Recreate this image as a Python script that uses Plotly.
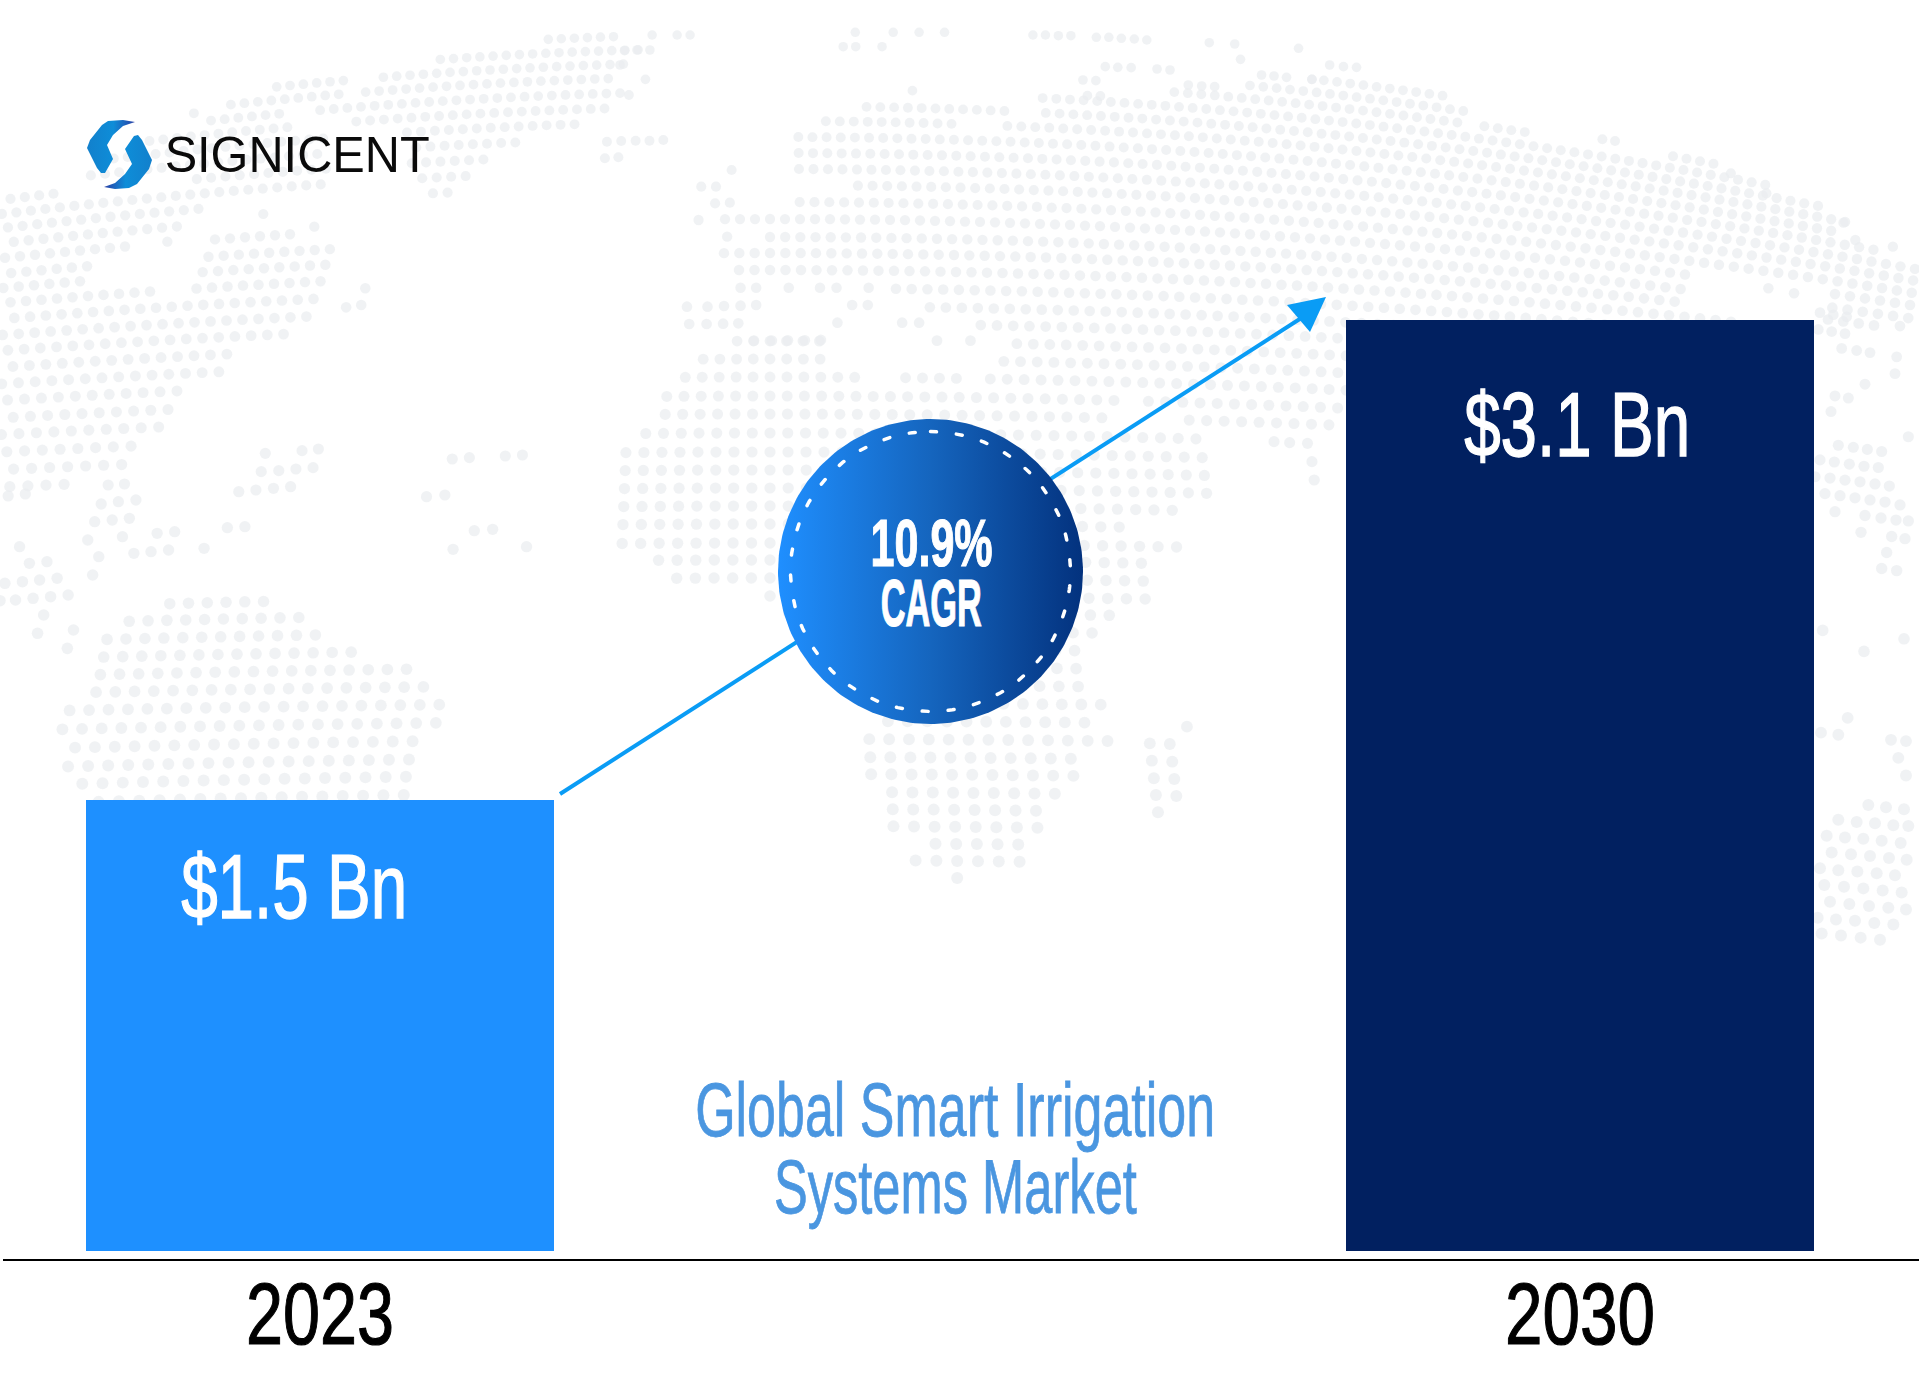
import numpy as np
import plotly.graph_objects as go

# ============ Chart data ============
YEARS = [2023, 2030]
MARKET_SIZE = [1.5, 3.1]        # USD Bn
BAR_COLORS = ["#1E90FF", "#012060"]
BAR_LABELS = ["$1.5 Bn", "$3.1 Bn"]
CAGR_LINES = ["10.9%", "CAGR"]
TITLE_LINES = ["Global Smart Irrigation", "Systems Market"]
BRAND = "SIGNICENT"

NARROW = "Liberation Sans Narrow, Liberation Sans, sans-serif"
DOT_COLOR = "#E9ECF0"
ARROW_COLOR = "#0A9CF5"

# the fonts here are wider than the original, so each string gets a fixed width
TEXT_WIDTHS = {
    "2023": 148, "2030": 150,
    "$1.5 Bn": 226, "$3.1 Bn": 226,
    "10.9%": 122, "CAGR": 101,
    "Global Smart Irrigation": 520, "Systems Market": 363,
    "SIGNICENT": 265,
}
# the original lettering is heavier than the narrow font: extra outline per string
TEXT_WEIGHT = {
    "2023": 1.2, "2030": 1.2,
    "$1.5 Bn": 1.4, "$3.1 Bn": 1.4,
    "10.9%": 1.2, "CAGR": 1.2,
    "Global Smart Irrigation": 0.8, "Systems Market": 0.8,
}

# ============ Dotted world map behind the chart (page pixels) ============
MAP_ROWS = [20, 34, 48, 62, 76, 91, 106, 121, 137, 153, 169, 185, 202, 219, 237, 253, 270,
            288, 306, 323, 341, 359, 377, 396, 414, 433, 452, 470, 488, 506, 524, 543, 560,
            578, 596, 613, 631, 649, 667, 685, 703, 721, 739, 757, 774, 792, 809, 826, 843,
            860, 877]

ROW_Y = [30, 107, 150, 219, 270, 396, 450, 490, 680, 770, 860]
ROW_PITCH = [13.0, 13.8, 14.3, 15.0, 15.5, 17.2, 18.0, 18.2, 19.2, 20.2, 20.8]
CURVE_Y = [30, 150, 300, 450, 700, 900]
CURVE = [1.1e-4, 8e-5, 5e-5, 3e-5, 1.5e-5, 3e-5]
MAP_APEX = 770
DOT_SIZE_Y = [30, 400, 800]
DOT_SIZE = [9.5, 11, 12]

EURASIA_AFRICA = [(868, 98), (1013, 98), (1013, 113), (962, 113), (962, 128), (995, 128), (995, 113),
                  (1035, 113), (1035, 98), (1176, 92), (1262, 82), (1300, 85), (1330, 74), (1408, 80),
                  (1468, 103), (1468, 128), (1478, 118), (1530, 125), (1535, 140), (1710, 160),
                  (1775, 188), (1850, 218), (1838, 240), (1919, 262), (1919, 326), (1828, 326),
                  (1828, 290), (1690, 268), (1690, 305), (1745, 310), (1745, 345), (1400, 345),
                  (1400, 408), (1310, 430), (1180, 425), (1180, 408), (1146, 408), (1142, 390),
                  (1115, 390), (1120, 425), (1188, 430), (1215, 450), (1218, 480), (1206, 497),
                  (1173, 512), (1122, 530), (1180, 548), (1148, 568), (1152, 582), (1154, 602),
                  (1116, 620), (1100, 638), (1084, 656), (1086, 690), (1110, 708), (1092, 726),
                  (1114, 745), (1075, 762), (1077, 778), (1057, 796), (1039, 812), (1040, 830),
                  (1020, 848), (1020, 865), (960, 882), (950, 870), (908, 865), (930, 848),
                  (886, 830), (885, 796), (863, 778), (863, 735), (880, 718), (760, 585), (690, 585),
                  (650, 565), (616, 548), (612, 525), (618, 505), (620, 488), (620, 470), (623, 450),
                  (643, 430), (660, 410), (662, 392), (682, 372), (700, 354), (750, 334), (825, 334),
                  (825, 368), (862, 368), (862, 388), (903, 388), (903, 368), (960, 368), (960, 388),
                  (985, 388), (985, 368), (1016, 350), (995, 333), (962, 316), (893, 298), (893, 280),
                  (730, 280), (730, 262), (718, 245), (768, 245), (768, 229), (720, 229), (720, 212),
                  (796, 212), (796, 195), (844, 195), (844, 177), (796, 177), (784, 145), (812, 128),
                  (842, 113)]
GREENLAND = [(494, 46), (607, 32), (640, 48), (640, 60), (624, 65), (620, 80), (630, 95), (600, 112),
             (569, 128), (510, 147), (478, 165), (459, 183), (439, 200), (420, 202), (427, 183),
             (402, 172), (408, 153), (390, 125), (316, 118), (314, 110), (351, 97), (369, 80),
             (414, 62), (447, 58), (478, 57)]
ARCTIC = [(216, 108), (265, 88), (351, 78), (333, 103), (292, 105), (286, 122), (330, 135), (330, 175),
          (175, 180), (70, 190), (85, 170), (143, 135), (204, 130)]
NORTH_AMERICA = [(0, 197), (53, 188), (78, 202), (139, 193), (163, 187), (180, 187), (222, 183),
                 (245, 180), (324, 175), (318, 197), (241, 205), (204, 207), (192, 225), (131, 245),
                 (94, 265), (84, 287), (163, 288), (173, 307), (192, 287), (202, 252), (212, 233),
                 (259, 227), (320, 237), (339, 257), (331, 280), (324, 297), (318, 313), (312, 332),
                 (253, 337), (229, 350), (253, 365), (184, 387), (176, 412), (167, 430), (143, 448),
                 (120, 468), (100, 478), (27, 493), (0, 500)]
SOUTH_AMERICA = [(122, 608), (245, 593), (302, 608), (314, 627), (351, 642), (367, 663), (441, 672),
                 (441, 697), (457, 712), (433, 733), (412, 747), (412, 800), (86, 803), (78, 780),
                 (61, 773), (69, 750), (53, 720), (78, 700), (86, 680), (108, 667), (96, 643), (120, 630)]
LAND = [EURASIA_AFRICA, GREENLAND, ARCTIC, NORTH_AMERICA, SOUTH_AMERICA]

# loose dots, as read in the crops: (left, top, x scale, y scale, points)
LOOSE_DOTS = [
    (0, 20, 2.45, 3, [(475, 280), (410, 665), (645, 582), (770, 620), (895, 805), (848, 862), (885, 855),
                      (650, 1300), (740, 1292), (780, 1287), (640, 1355), (683, 1352), (725, 1347),
                      (767, 1343), (1108, 1317), (1150, 1313), (1238, 1308), (1280, 1305), (1487, 365),
                      (1522, 363), (1482, 415), (1515, 412)]),
    (0, 480, 2.45, 3, [(265, 15), (305, 12), (248, 72), (290, 65), (333, 60), (232, 125), (275, 120),
                       (317, 115), (215, 180), (300, 170), (242, 230), (227, 285), (385, 160), (428, 155),
                       (328, 220), (370, 215), (413, 210), (500, 205), (557, 143), (600, 140), (585, 35),
                       (627, 30), (670, 25), (712, 20), (1045, 50), (1090, 45), (1162, 152), (1207, 148),
                       (1110, 208), (1290, 200), (48, 200), (72, 250), (115, 245), (12, 310), (55, 305),
                       (97, 300), (140, 295), (0, 362), (38, 360), (81, 355), (124, 350), (167, 345),
                       (107, 405), (92, 460), (180, 450), (165, 505), (20, 48), (62, 42)]),
    (620, 20, 2.24, 3, [(72, 45), (128, 45), (157, 45), (10, 92), (38, 90), (67, 90), (0, 135), (57, 178),
                        (20, 225), (527, 37), (612, 37), (670, 37), (727, 37), (500, 80), (528, 80), (587, 80),
                        (925, 45), (953, 45), (982, 47), (1010, 47), (1067, 52), (1095, 52), (1123, 55),
                        (1152, 57), (1180, 60), (1320, 68), (1377, 72), (1390, 118), (1520, 85), (1087, 140),
                        (1115, 142), (1145, 143), (1203, 147), (1232, 150), (1037, 180), (1066, 182),
                        (1047, 227), (1076, 228), (655, 212), (35, 362), (66, 362), (97, 360), (250, 450),
                        (182, 500), (215, 500), (213, 550), (246, 548), (176, 600), (240, 650), (1437, 165),
                        (1465, 168), (1493, 172), (1550, 178), (1273, 195), (1303, 198), (1332, 200),
                        (270, 803), (305, 803), (378, 803), (448, 803), (485, 803), (557, 803), (520, 855),
                        (555, 855), (487, 908), (632, 908), (670, 908), (710, 962), (785, 962), (150, 860),
                        (196, 860), (233, 858), (270, 857), (305, 855), (155, 912), (194, 912), (231, 911),
                        (265, 910), (300, 962), (340, 962), (376, 961), (414, 961), (450, 960), (1465, 1265),
                        (1500, 1268), (1540, 1270), (1550, 1325), (1555, 1380)]),
    (600, 480, 2.45, 3, [(1438, 740), (1347, 790), (1396, 792), (1352, 842), (1402, 845), (1357, 895),
                         (1407, 897), (1362, 945), (1412, 948), (1367, 997)]),
    (1300, 60, 2.53, 3, [(75, 15), (110, 20), (143, 22), (30, 58), (765, 238), (797, 243), (1090, 340),
                         (1180, 400), (1375, 488), (1405, 540), (1500, 560), (1185, 685), (1250, 700)]),
    (1780, 300, 3, 2.376, [(120, 30), (160, 35), (200, 40), (115, 70), (155, 75), (195, 80), (185, 115), (230, 120),
                           (270, 125), (255, 200), (165, 228), (205, 233), (153, 265), (350, 135), (345, 175),
                           (360, 62), (175, 345), (220, 350), (262, 355), (305, 360), (120, 380), (163, 385),
                           (208, 390), (252, 395), (295, 398), (105, 420), (150, 423), (195, 428), (240, 432),
                           (285, 437), (328, 442), (135, 460), (180, 465), (225, 470), (270, 475), (315, 480),
                           (360, 487), (165, 503), (255, 512), (303, 518), (348, 523), (385, 525), (243, 552),
                           (335, 562), (375, 567), (320, 600), (305, 638), (350, 643), (385, 325), (128, 785),
                           (252, 835), (372, 805), (203, 993), (123, 1028), (175, 1033), (333, 1045), (378, 1048),
                           (355, 1088), (378, 1130), (265, 1200), (318, 1205), (372, 1210), (175, 1235),
                           (230, 1240), (285, 1243), (340, 1248), (385, 1250), (140, 1273), (195, 1277),
                           (250, 1280), (305, 1285), (362, 1290), (155, 1313), (213, 1317), (270, 1321),
                           (327, 1326), (380, 1330), (120, 1350), (175, 1355), (232, 1358), (290, 1362),
                           (345, 1367), (133, 1390), (192, 1394), (250, 1398), (308, 1403), (365, 1408),
                           (150, 1430), (208, 1435), (267, 1440), (325, 1444), (378, 1448), (113, 1468),
                           (168, 1472), (225, 1475), (283, 1480), (340, 1484), (125, 1505), (183, 1510),
                           (242, 1515), (300, 1520)]),
]

LOGO_LEFT = [(108, 121), (123, 120), (135, 122), (123, 126), (113, 135), (107, 145), (113, 159),
             (105, 173), (101, 173), (97, 168), (87, 148), (90, 140), (102, 125)]
LOGO_RIGHT = [(129, 188), (115, 189), (104, 187), (115, 183), (125, 174), (132, 164), (125, 149),
              (134, 136), (138, 135), (142, 140), (152, 160), (149, 169), (137, 184)]
# ====================================


def inside(px, py, poly):
    hit = False
    n = len(poly)
    for i in range(n):
        x1, y1 = poly[i]
        x2, y2 = poly[(i + 1) % n]
        if (y1 > py) != (y2 > py) and px < x1 + (py - y1) * (x2 - x1) / (y2 - y1):
            hit = not hit
    return hit


def map_dots():
    xs, ys = [], []
    for row in MAP_ROWS:
        pitch = np.interp(row, ROW_Y, ROW_PITCH)
        bend = np.interp(row, CURVE_Y, CURVE)
        for k in range(-90, 90):
            x = MAP_APEX + k * pitch
            y = row + bend * (x - MAP_APEX) ** 2
            if 0 <= x <= 1919 and any(inside(x, y, poly) for poly in LAND):
                xs.append(x)
                ys.append(y)
    for left, top, sx, sy, points in LOOSE_DOTS:
        for px, py in points:
            xs.append(left + px / sx)
            ys.append(top + py / sy)
    return xs, ys


def px_text(fig, text, x, y, size, color, family=NARROW, weight=400):
    fig.add_annotation(text=text, x=x, y=y, xref="x", yref="y", showarrow=False,
                       xanchor="center", yanchor="middle",
                       font=dict(family=family, size=size, color=color, weight=weight))


def polygon(points, scale):
    xs = [p[0] for p in points] + [points[0][0]]
    ys = [p[1] for p in points] + [points[0][1]]
    return go.Scatter(x=xs, y=ys, mode="lines", fill="toself", line=dict(width=0),
                      fillgradient=dict(type="horizontal", colorscale=scale),
                      hoverinfo="skip", showlegend=False)


fig = go.Figure()

# page-pixel layer: map, arrow, badge, logo
dot_x, dot_y = map_dots()
fig.add_trace(go.Scatter(x=dot_x, y=dot_y, mode="markers", hoverinfo="skip", showlegend=False,
                         marker=dict(size=np.interp(dot_y, DOT_SIZE_Y, DOT_SIZE), color=DOT_COLOR,
                                     line=dict(width=0))))

fig.add_trace(go.Scatter(x=[560, 1306], y=[794, 315], mode="lines", hoverinfo="skip", showlegend=False,
                         line=dict(color=ARROW_COLOR, width=4)))
fig.add_trace(go.Scatter(x=[1326, 1287, 1310, 1326], y=[297, 305, 332, 297], mode="lines", fill="toself",
                         fillcolor=ARROW_COLOR, line=dict(width=0), hoverinfo="skip", showlegend=False))

angle = np.linspace(0, 2 * np.pi, 241)
fig.add_trace(go.Scatter(x=930.5 + 152.5 * np.cos(angle), y=571.5 + 152.5 * np.sin(angle),
                         mode="lines", fill="toself", line=dict(width=0), hoverinfo="skip", showlegend=False,
                         fillgradient=dict(type="horizontal", colorscale=[[0, "#1F8FFF"], [0.5, "#1565BE"],
                                                                          [1, "#03327E"]])))
fig.add_trace(go.Scatter(x=930.5 + 140 * np.sin(angle), y=571.5 - 140 * np.cos(angle), mode="lines",
                         hoverinfo="skip", showlegend=False,
                         line=dict(color="white", width=3.5, dash="6px,20px")))

fig.add_trace(polygon(LOGO_LEFT, [[0, "#1280CC"], [0.55, "#0E8DD8"], [1, "#2A3FA5"]]))
fig.add_trace(polygon(LOGO_RIGHT, [[0, "#2A3FA5"], [0.45, "#0E8DD8"], [1, "#1280CC"]]))

# the chart itself
fig.add_trace(go.Bar(x=YEARS, y=MARKET_SIZE, width=2.6, xaxis="x2", yaxis="y2",
                     marker=dict(color=BAR_COLORS, line=dict(width=0)), hoverinfo="skip", showlegend=False))

px_text(fig, BAR_LABELS[0], 294, 887, 90, "white")
px_text(fig, BAR_LABELS[1], 1577, 425, 90, "white")
px_text(fig, CAGR_LINES[0], 931, 543, 66, "white", weight=700)
px_text(fig, CAGR_LINES[1], 931, 603, 66, "white", weight=700)
px_text(fig, TITLE_LINES[0], 955, 1109, 76, "#4A96E0")
px_text(fig, TITLE_LINES[1], 955, 1186, 76, "#4A96E0")
px_text(fig, BRAND, 296.5, 155, 50, "#0A0A0A", "Liberation Sans, sans-serif")

fig.update_layout(
    width=1919, height=1377,
    margin=dict(l=0, r=0, t=0, b=0),
    paper_bgcolor="white", plot_bgcolor="rgba(0,0,0,0)",
    bargap=0,
    xaxis=dict(domain=[0, 1], range=[0, 1919], visible=False),
    yaxis=dict(domain=[0, 1], range=[1377, 0], visible=False),
    xaxis2=dict(domain=[3 / 1919, 1], anchor="y2", range=[2021.239, 2031.883],
                tickmode="array", tickvals=YEARS, ticktext=[str(y) for y in YEARS],
                tickfont=dict(family=NARROW, size=88, color="black"), ticks="", ticklabelstandoff=-23,
                showgrid=False, zeroline=False, showline=True, linecolor="black", linewidth=2),
    yaxis2=dict(domain=[1 - 1259 / 1377, 1], anchor="x2", range=[-0.0283, 4.1656], visible=False),
)

# no page margin, round dashes on the ring, strings squeezed to the original lettering
post_script = """
document.body.style.margin = '0';
var widths = %s;
var heavy = %s;
document.querySelectorAll('svg text').forEach(function (t) {
    var k = t.textContent;
    if (widths[k]) { t.setAttribute('textLength', widths[k]); t.setAttribute('lengthAdjust', 'spacingAndGlyphs'); }
    if (heavy[k]) { t.style.stroke = t.style.fill; t.style.strokeWidth = heavy[k] + 'px'; }
});
document.querySelectorAll('.scatterlayer .js-line').forEach(function (p) {
    if (p.style.strokeDasharray) { p.style.strokeLinecap = 'round'; }
});
""" % (str(TEXT_WIDTHS), str(TEXT_WEIGHT))

fig.write_html("out.html", post_script=post_script, config={"displayModeBar": False})
